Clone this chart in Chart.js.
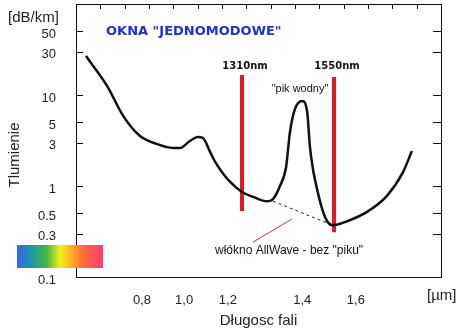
<!DOCTYPE html>
<html>
<head>
<meta charset="utf-8">
<script src="https://cdn.jsdelivr.net/npm/chart.js@4.4.0/dist/chart.umd.min.js"></script>
<style>
html, body { margin: 0; padding: 0; background: #fff; }
</style>
</head>
<body>
<canvas id="myChart" width="470" height="333"></canvas>
<script>
// attenuation curve of a standard single-mode fibre
var wavelengthNm = [903, 958, 1000, 1044, 1088, 1130, 1148, 1174, 1195, 1208, 1227, 1240, 1258, 1279, 1310,
    1339, 1375, 1391, 1409, 1425, 1435, 1448, 1467, 1480, 1487, 1495, 1500, 1519, 1532, 1547, 1584, 1636, 1688, 1730, 1753];
var attenuationDb = [26.8, 12.6, 5.9, 3.54, 2.89, 2.62, 2.62, 3.12, 3.45, 3.37, 2.36, 1.84, 1.42, 1.11, 0.86,
    0.76, 0.68, 0.72, 1.0, 1.62, 3.9, 7.0, 8.6, 6.5, 2.75, 1.54, 1.19, 0.56, 0.41, 0.37, 0.41, 0.52, 0.78, 1.42, 2.42];

// AllWave fibre (no water peak)
var allWaveNm = [1391, 1540];
var allWaveDb = [0.68, 0.38];

// transmission windows
var windowNm = [1310, 1550];
var windowLabels = ['1310nm', '1550nm'];
var windowTopDb = [16.6, 15.8];
var windowBottomDb = [0.53, 0.31];

// pointer to the AllWave caption
var pointerNm = [1339, 1440];
var pointerDb = [0.242, 0.434];

var yTickValues = [0.1, 0.3, 0.5, 1, 3, 5, 10, 30, 50];
var xTickLabels = ['0,8', '1,0', '1,2', '1,4', '1,6'];
var xTickAt = [1049, 1159, 1273, 1467, 1607];

function pts(xs, ys) {
    return xs.map(function (v, i) { return {x: v, y: ys[i]}; });
}

var windowSets = windowNm.map(function (nm, i) {
    return {
        data: [{x: nm, y: windowTopDb[i]}, {x: nm, y: windowBottomDb[i]}],
        borderColor: '#e11b1b',
        borderWidth: 4
    };
});

var decor = {
    id: 'decor',
    afterDraw: function (chart) {
        var ctx = chart.ctx, a = chart.chartArea, x = chart.scales.x, y = chart.scales.y;
        ctx.save();
        ctx.strokeStyle = '#111';
        ctx.lineWidth = 1;
        ctx.strokeRect(a.left + 0.5, a.top + 0.5, a.right - a.left, a.bottom - a.top);
        ctx.beginPath();
        yTickValues.forEach(function (v) {
            var py = Math.round(y.getPixelForValue(v)) + 0.5;
            ctx.moveTo(a.left, py); ctx.lineTo(a.left + 7, py);
            ctx.moveTo(a.right - 8, py); ctx.lineTo(a.right, py);
        });
        for (var k = 1; k < 15; k++) {
            var px = Math.round(a.left + k * (a.right - a.left) / 15) + 0.5;
            ctx.moveTo(px, a.top); ctx.lineTo(px, a.top + 5);
        }
        ctx.stroke();

        // spectrum bar
        var g = ctx.createLinearGradient(17, 0, 103, 0);
        g.addColorStop(0, '#3a66e6');
        g.addColorStop(0.18, '#1c9aa6');
        g.addColorStop(0.35, '#48b842');
        g.addColorStop(0.5, '#f4f018');
        g.addColorStop(0.64, '#ffa828');
        g.addColorStop(0.78, '#ff6a3c');
        g.addColorStop(1, '#ff3a7c');
        ctx.fillStyle = g;
        ctx.fillRect(17, 245, 86, 23);

        ctx.fillStyle = '#222';
        ctx.textBaseline = 'middle';
        ctx.textAlign = 'left';
        ctx.font = '15px "Liberation Sans"';
        ctx.fillText('[dB/km]', 8, 18);
        ctx.fillText('[\u00b5m]', 427, 296);
        ctx.save();
        ctx.translate(15, 155);
        ctx.rotate(-Math.PI / 2);
        ctx.textAlign = 'center';
        ctx.fillText('Tlumienie', 0, 0);
        ctx.restore();

        ctx.fillStyle = '#1f2fd8';
        ctx.font = 'bold 13px "DejaVu Sans"';
        ctx.fillText('OKNA "JEDNOMODOWE"', 106, 32);

        ctx.fillStyle = '#111';
        ctx.textAlign = 'center';
        ctx.font = 'bold 10px "DejaVu Sans"';
        windowNm.forEach(function (nm, i) {
            ctx.fillText(windowLabels[i], x.getPixelForValue(nm) + 3, 66);
        });
        ctx.font = '11px "Liberation Sans"';
        ctx.fillText('"pik wodny"', 300, 89);
        ctx.textAlign = 'left';
        ctx.font = '12px "Liberation Sans"';
        ctx.fillText('w\u0142\u00f3kno AllWave - bez "piku"', 215, 251);
        ctx.restore();
    }
};

var ctx = document.getElementById('myChart').getContext('2d');
var myChart = new Chart(ctx, {
    type: 'line',
    data: {
        datasets: [{
            data: pts(wavelengthNm, attenuationDb),
            borderColor: '#111',
            borderWidth: 2.5,
            cubicInterpolationMode: 'monotone'
        }, {
            data: pts(allWaveNm, allWaveDb),
            borderColor: '#222',
            borderWidth: 1,
            borderDash: [3, 3]
        }].concat(windowSets, [{
            data: pts(pointerNm, pointerDb),
            borderColor: '#d83030',
            borderWidth: 1
        }])
    },
    options: {
        responsive: false,
        animation: false,
        devicePixelRatio: 1,
        layout: {padding: {top: 4, right: 29, left: 0, bottom: 0}},
        elements: {point: {radius: 0}},
        plugins: {legend: {display: false}, tooltip: {enabled: false}},
        scales: {
            x: {
                type: 'linear',
                min: 877,
                max: 1829,
                grid: {display: false},
                border: {display: false},
                afterBuildTicks: function (s) { s.ticks = xTickAt.map(function (v) { return {value: v}; }); },
                afterFit: function (s) { s.height = 56; s.paddingLeft = 0; s.paddingRight = 0; },
                ticks: {
                    autoSkip: false,
                    maxRotation: 0,
                    padding: 8,
                    color: '#222',
                    font: {family: 'Liberation Sans', size: 13},
                    callback: function (v, i) { return xTickLabels[i]; }
                },
                title: {
                    display: true,
                    text: 'D\u0142ugosc fali',
                    color: '#222',
                    font: {family: 'Liberation Sans', size: 15},
                    padding: {top: 0, bottom: 3}
                }
            },
            y: {
                type: 'logarithmic',
                min: 0.1,
                max: 100,
                grid: {display: false},
                border: {display: false},
                afterBuildTicks: function (s) { s.ticks = yTickValues.map(function (v) { return {value: v}; }); },
                afterFit: function (s) { s.width = 76; s.paddingTop = 0; s.paddingBottom = 0; },
                ticks: {
                    autoSkip: false,
                    padding: 12,
                    labelOffset: 3,
                    color: '#222',
                    font: {family: 'Liberation Sans', size: 13},
                    callback: function (v) { return String(v); }
                }
            }
        }
    },
    plugins: [decor]
});
</script>
</body>
</html>
